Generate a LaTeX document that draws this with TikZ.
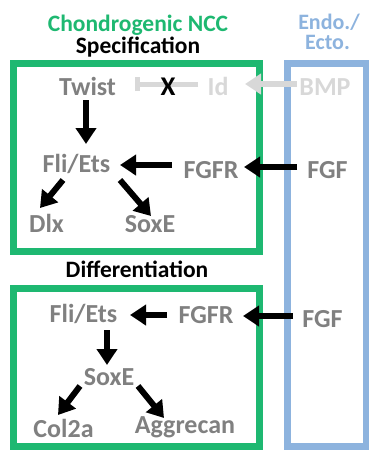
\documentclass[tikz,border=0pt]{standalone}
\usepackage{fontspec}
\setmainfont{Carlito}
\usetikzlibrary{arrows.meta}
\definecolor{nccgreen}{RGB}{30,184,113}
\definecolor{ectoblue}{RGB}{141,179,222}
\definecolor{genegray}{RGB}{128,128,128}
\definecolor{fadegray}{RGB}{216,216,216}
\tikzset{
  gene/.style={font=\bfseries\fontsize{26}{26}\selectfont, text=genegray, inner sep=0pt,
    anchor=base, text height=17pt, text depth=0pt},
  faded/.style={gene, text=fadegray},
  title/.style={font=\bfseries\fontsize{23.5}{23.5}\selectfont, inner sep=0pt, anchor=base},
  signal/.style={line width=6pt, -{Triangle[width=20pt,length=16pt]}},
  fadesignal/.style={signal, draw=fadegray},
}
\begin{document}
\begin{tikzpicture}[x=1pt,y=-1pt]
  \useasboundingbox (0,0) rectangle (369,451);
  % boxes
  \draw [nccgreen, line width=7pt] (13.5,63.5) rectangle (259.5,251);
  \draw [nccgreen, line width=7pt] (13.5,288) rectangle (259.5,446.5);
  \draw [ectoblue, line width=6.5pt] (287.5,63.5) rectangle (366,446.5);
  % titles
  \node [title, text=nccgreen] (ncc) at (138,31) {Chondrogenic NCC};
  \node [title] (spec) at (138,53) {Specification};
  \node [title] (diff) at (137,277) {Differentiation};
  \node [title, text=ectoblue, font=\bfseries\fontsize{22}{22}\selectfont] (endo) at (329,29) {Endo./};
  \node [title, text=ectoblue, font=\bfseries\fontsize{22}{22}\selectfont] (ecto) at (327.5,49) {Ecto.};
  % specification
  \node [gene] (twist) at (87.5,95) {Twist};
  \node [faded] (id) at (218,95) {Id};
  \node [faded] (bmp) at (325,95) {BMP};
  \node [gene] (fli) at (76.5,172) {Fli/Ets};
  \node [gene] (fgfr) at (211,178) {FGFR};
  \node [gene] (fgf) at (327.5,178) {FGF};
  \node [gene] (dlx) at (46.5,232) {Dlx};
  \node [gene] (soxe) at (150,232) {SoxE};
  \draw [fadesignal] ([shift={(-28,-11)}]bmp.base) -- ([shift={(27,-11)}]id.base);
  \draw [fadegray, line width=5pt, -{Bar[width=14pt]}] ([shift={(-20,-11)}]id.base) -- ([shift={(47.5,-11)}]twist.base);
  \node [gene, text=black, font=\bfseries\fontsize{27}{27}\selectfont] (block) at (168,95) {X};
  \draw [signal] ([shift={(-1.5,5)}]twist.base) -- ([shift={(9.5,-28)}]fli.base);
  \draw [signal] ([shift={(-39,-13)}]fgfr.base) -- ([shift={(43.5,-7)}]fli.base);
  \draw [signal] ([shift={(-30.5,-11)}]fgf.base) -- ([shift={(33,-11)}]fgfr.base);
  \draw [signal] ([shift={(-13.5,8)}]fli.base) -- ([shift={(-6.5,-24)}]dlx.base);
  \draw [signal] ([shift={(43.5,8)}]fli.base) -- ([shift={(1,-16)}]soxe.base);
  % differentiation
  \node [gene] (fli2) at (83.5,322) {Fli/Ets};
  \node [gene] (fgfr2) at (206,323) {FGFR};
  \node [gene] (fgf2) at (322.5,327) {FGF};
  \node [gene] (soxe2) at (109,385) {SoxE};
  \node [gene] (col) at (63.5,437) {Col2a};
  \node [gene] (agg) at (185,433) {Aggrecan};
  \draw [signal] ([shift={(-39,-8)}]fgfr2.base) -- ([shift={(46.5,-7)}]fli2.base);
  \draw [signal] ([shift={(-29.5,-11)}]fgf2.base) -- ([shift={(37,-7)}]fgfr2.base);
  \draw [signal] ([shift={(23.5,8)}]fli2.base) -- ([shift={(-2,-20)}]soxe2.base);
  \draw [signal] ([shift={(-29,1)}]soxe2.base) -- ([shift={(-5.5,-22)}]col.base);
  \draw [signal] ([shift={(29,1)}]soxe2.base) -- ([shift={(-21,-15)}]agg.base);
\end{tikzpicture}
\end{document}
